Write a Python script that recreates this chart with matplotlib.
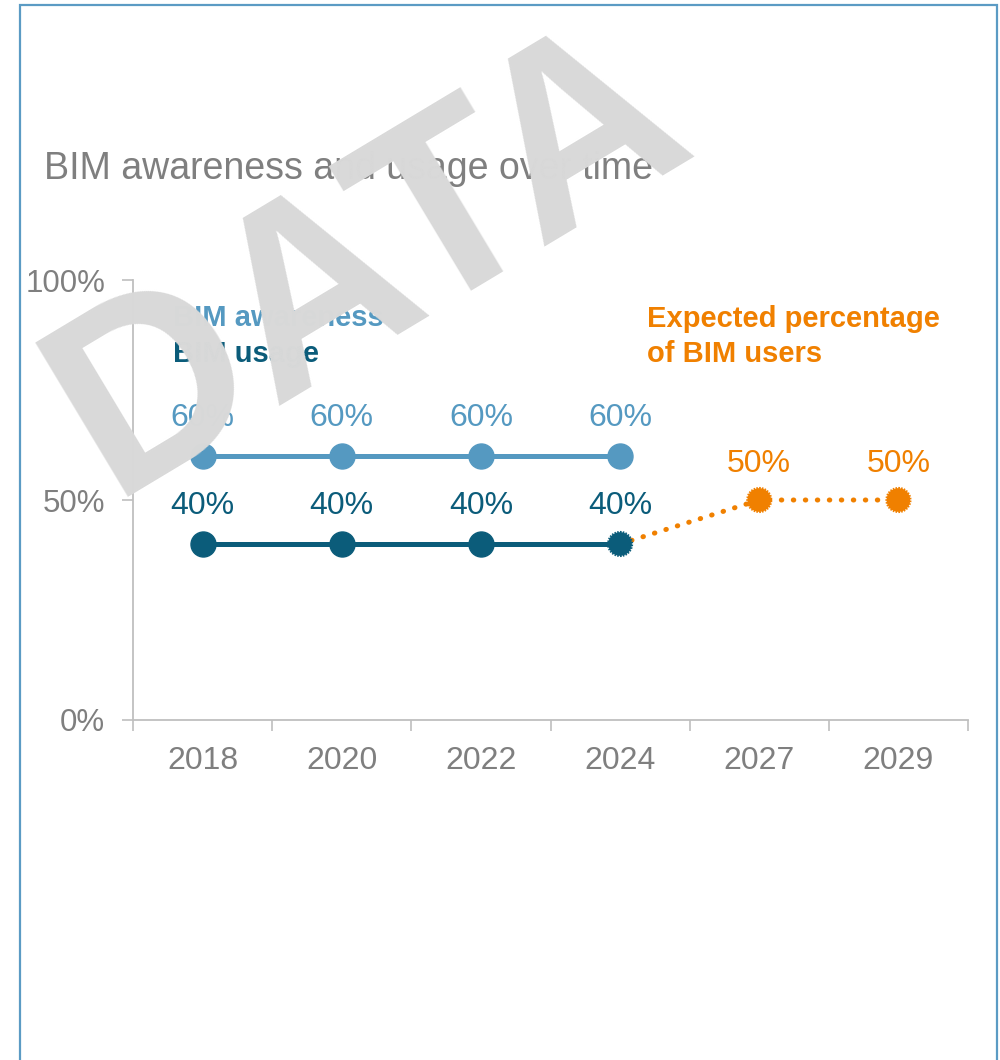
import matplotlib.pyplot as plt
from matplotlib.patches import Rectangle

plt.rcParams['font.family'] = ['Liberation Sans', 'DejaVu Sans']

years = ['2018', '2020', '2022', '2024', '2027', '2029']
awareness = [0.60, 0.60, 0.60, 0.60]
usage = [0.40, 0.40, 0.40, 0.40]
expected = [0.40, 0.50, 0.50]   # starts from the last usage value (2024)
y_ticks = [0.0, 0.5, 1.0]
y_tick_labels = ['0%', '50%', '100%']

light_blue = '#5599C1'
dark_blue = '#0B5C7A'
orange = '#F08000'
grey_text = '#7F7F7F'
grey_line = '#BFBFBF'

fig = plt.figure(figsize=(10, 10.6), dpi=100)
ax = fig.add_axes([0.133, 0.3208, 0.835, 0.415])

xa = list(range(len(awareness)))
xu = list(range(len(usage)))
xe = list(range(len(usage) - 1, len(usage) - 1 + len(expected)))

# solid history lines
ax.plot(xa, awareness, color=light_blue, lw=3.6, marker='o', ms=18,
        solid_capstyle='butt', zorder=3)
ax.plot(xu[:-1], usage[:-1], color=dark_blue, lw=3.6, marker='o', ms=18, zorder=3)
ax.plot(xu[-2:], usage[-2:], color=dark_blue, lw=3.6, zorder=3)

# forecast, dotted
ax.plot(xe, expected, color=orange, lw=3.6, ls=(0, (0.1, 2.3)),
        dash_capstyle='round', zorder=2)
ax.scatter(xu[-1:], usage[-1:], s=290, color=dark_blue, edgecolors=dark_blue,
           linewidths=1.8, linestyles=(0, (0.6, 0.5)), zorder=4)
ax.scatter(xe[1:], expected[1:], s=290, color=orange, edgecolors=orange,
           linewidths=1.8, linestyles=(0, (0.6, 0.5)), zorder=4)

# value labels
for x, v in zip(xa, awareness):
    ax.annotate(f'{v:.0%}', (x, v), xytext=(0, 27.5), textcoords='offset points',
                ha='center', va='center', fontsize=23, color=light_blue)
for x, v in zip(xu, usage):
    ax.annotate(f'{v:.0%}', (x, v), xytext=(0, 27.5), textcoords='offset points',
                ha='center', va='center', fontsize=23, color=dark_blue)
for x, v in zip(xe[1:], expected[1:]):
    ax.annotate(f'{v:.0%}', (x, v), xytext=(0, 26), textcoords='offset points',
                ha='center', va='center', fontsize=23, color=orange)

# inline legend
ax.text(0.048, 0.913, 'BIM awareness', transform=ax.transAxes, fontsize=21,
        fontweight='bold', color=light_blue, va='center')
ax.text(0.048, 0.831, 'BIM usage', transform=ax.transAxes, fontsize=21,
        fontweight='bold', color=dark_blue, va='center')
ax.text(0.6156, 0.871, 'Expected percentage\nof BIM users', transform=ax.transAxes,
        fontsize=21, fontweight='bold', color=orange, va='center', linespacing=1.32)

ax.set_xlim(-0.5, len(years) - 0.5)
ax.set_ylim(0, 1)
ax.set_xticks(range(len(years)))
ax.set_xticklabels(years)
ax.set_xticks([i - 0.5 for i in range(len(years) + 1)], minor=True)
ax.set_yticks(y_ticks)
ax.set_yticklabels(y_tick_labels)

ax.tick_params(axis='x', which='major', length=0, pad=19, labelsize=23,
               labelcolor=grey_text)
ax.tick_params(axis='x', which='minor', length=8, width=1.2, color=grey_line,
               direction='out')
ax.tick_params(axis='y', length=8, width=1.2, color=grey_line, pad=12,
               labelsize=22.5, labelcolor=grey_text)

for side in ['top', 'right']:
    ax.spines[side].set_visible(False)
for side in ['left', 'bottom']:
    ax.spines[side].set_color(grey_line)
    ax.spines[side].set_linewidth(1.3)

fig.text(0.044, 0.841, 'BIM awareness and usage over time', fontsize=27,
         color=grey_text, va='center', ha='left')

# card border
fig.patches.append(Rectangle((0.02, -0.02), 0.977, 1.015, transform=fig.transFigure,
                             fill=False, edgecolor='#5B9BC4', lw=1.6, zorder=0))

# watermark
fig.text(0.37, 0.753, 'DATA', fontsize=188, fontweight='bold', color='#D9D9D9',
         rotation=31, ha='center', va='center', rotation_mode='anchor', zorder=20)

fig.savefig('out.png', dpi=100)
